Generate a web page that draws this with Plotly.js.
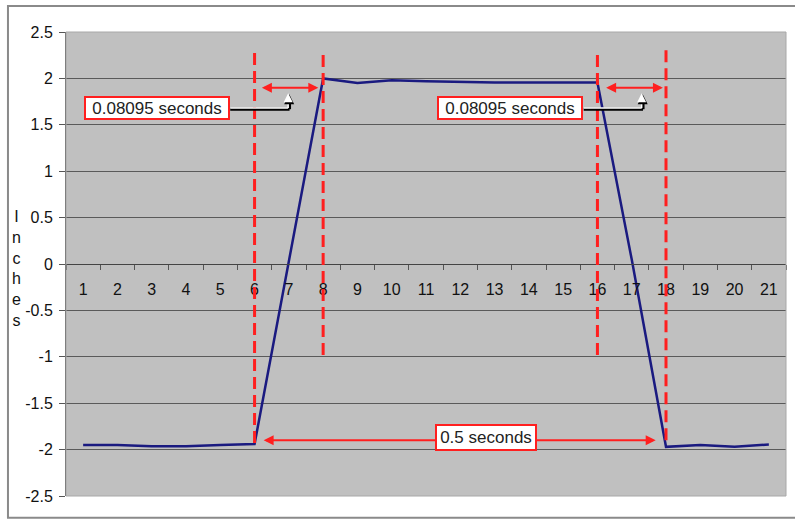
<!DOCTYPE html>
<html>
<head>
<meta charset="utf-8">
<script src="https://cdn.plot.ly/plotly-3.0.1.min.js"></script>
<style>html,body{margin:0;padding:0;background:#fff;}#chart{width:795px;height:521px;}</style>
</head>
<body>
<div id="chart"></div>
<script>
// ---- data ----
var categories = ['1','2','3','4','5','6','7','8','9','10','11','12','13','14','15','16','17','18','19','20','21'];
var inches = [-1.95,-1.95,-1.965,-1.965,-1.95,-1.94,0.03,2.0,1.95,1.98,1.97,1.96,1.955,1.955,1.955,1.955,0.05,-1.97,-1.95,-1.97,-1.945];
var yTickVals = [-2.5,-2,-1.5,-1,-0.5,0,0.5,1,1.5,2,2.5];
var yTickText = ['-2.5','-2','-1.5','-1','-0.5','0','0.5','1','1.5','2','2.5'];
var markerCats = [5,7,15,17];            // category indexes of the dashed markers (6, 8, 16, 18)
var markerBottoms = [-1.93,-0.98,-0.98,-1.9];
var markerTop = 2.31;
var riseLabel = '0.08095 seconds';
var periodLabel = '0.5 seconds';

var red = '#ff1f1f';
var shapes = [];
markerCats.forEach(function(c,i){
  shapes.push({type:'line',xref:'x',yref:'y',x0:c,x1:c,y0:markerBottoms[i],y1:markerTop,
    line:{color:red,width:3,dash:'12px,6px'},layer:'above'});
});
// callout connectors (black outline then white)
function connector(xs,xe,yb){
  shapes.push({type:'line',xref:'x',yref:'y',x0:xs,x1:xe+0.04,y0:yb-0.012,y1:yb-0.012,line:{color:'#000',width:3}});
  shapes.push({type:'line',xref:'x',yref:'y',x0:xe+0.04,x1:xe+0.04,y0:yb-0.012,y1:yb+0.1,line:{color:'#000',width:3}});
  shapes.push({type:'line',xref:'x',yref:'y',x0:xs,x1:xe,y0:yb,y1:yb,line:{color:'#fff',width:1.5}});
  shapes.push({type:'line',xref:'x',yref:'y',x0:xe,x1:xe,y0:yb,y1:yb+0.1,line:{color:'#fff',width:1.5}});
}
connector(4.29,5.98,1.68);
connector(14.6,16.29,1.68);
// outer frame + plot border
shapes.push({type:'rect',xref:'paper',yref:'paper',x0:-0.0806,x1:1.03,y0:-0.047,y1:1.056,line:{color:'#8a8a8a',width:2},layer:'below'});
shapes.push({type:'rect',xref:'paper',yref:'paper',x0:0,x1:1,y0:0,y1:1,line:{color:'#a8a8a8',width:1},layer:'above'});

var annotations = [];
function dblArrow(x0,x1,y){
  annotations.push({xref:'x',yref:'y',axref:'x',ayref:'y',x:x1,y:y,ax:x0,ay:y,text:'',showarrow:true,
    arrowside:'end+start',arrowhead:2,arrowsize:1,arrowwidth:2,arrowcolor:red,standoff:0,startstandoff:0});
}
dblArrow(5.17,6.86,1.90);
dblArrow(15.21,16.91,1.90);
dblArrow(5.22,16.70,-1.90);
function upArrow(x,y0,y1){
  annotations.push({xref:'x',yref:'y',axref:'x',ayref:'y',x:x+0.03,y:y1-0.01,ax:x+0.03,ay:y0,text:'',showarrow:true,
    arrowhead:2,arrowsize:0.8,arrowwidth:2.5,arrowcolor:'#000',standoff:0});
  annotations.push({xref:'x',yref:'y',axref:'x',ayref:'y',x:x,y:y1,ax:x,ay:y0,text:'',showarrow:true,
    arrowhead:2,arrowsize:1.2,arrowwidth:1.5,arrowcolor:'#fff',standoff:0});
}
upArrow(5.98,1.75,1.84);
upArrow(16.29,1.75,1.84);
function box(x,y,t,w,h){
  annotations.push({xref:'x',yref:'y',x:x,y:y,text:t,showarrow:false,bgcolor:'#fff',bordercolor:red,borderwidth:2,
    borderpad:1,width:w,height:h,font:{family:'Liberation Sans, Arial, sans-serif',size:17,color:'#222'}});
}
box(2.16,1.68,riseLabel,140,18);
box(12.45,1.68,riseLabel,140,18);
box(11.74,-1.865,periodLabel,96,21);
annotations.push({xref:'paper',yref:'paper',x:-0.069,y:0.491,xanchor:'center',yanchor:'middle',showarrow:false,
  text:'I<br>n<br>c<br>h<br>e<br>s',font:{family:'Liberation Sans, Arial, sans-serif',size:16,color:'#111'}});

var trace = {x:categories,y:inches,type:'scatter',mode:'lines',line:{color:'#1a1a80',width:2.5},hoverinfo:'skip'};

var layout = {
  width:795,height:521,
  margin:{l:66,r:9,t:32,b:25},
  paper_bgcolor:'#fff',plot_bgcolor:'#c0c0c0',
  showlegend:false,
  font:{family:'Liberation Sans, Arial, sans-serif',color:'#111'},
  xaxis:{type:'category',categoryorder:'array',categoryarray:categories,range:[-0.5,20.5],
    anchor:'free',position:0.5,tickson:'boundaries',ticks:'outside',ticklen:5,tickcolor:'#555',tickwidth:1,
    showline:true,linecolor:'#444',linewidth:1,showgrid:false,zeroline:false,
    ticklabelstandoff:11,tickfont:{size:16,color:'#111'}},
  yaxis:{range:[-2.5,2.5],tickmode:'array',tickvals:yTickVals,ticktext:yTickText,
    ticks:'outside',ticklen:6,tickcolor:'#555',showline:true,linecolor:'#555',linewidth:1,
    showgrid:true,gridcolor:'#5a5a5a',gridwidth:1,zeroline:false,ticklabelstandoff:3,
    tickfont:{size:16,color:'#111'}},
  shapes:shapes,annotations:annotations
};
Plotly.newPlot('chart',[trace],layout,{staticPlot:true});
</script>
</body>
</html>
